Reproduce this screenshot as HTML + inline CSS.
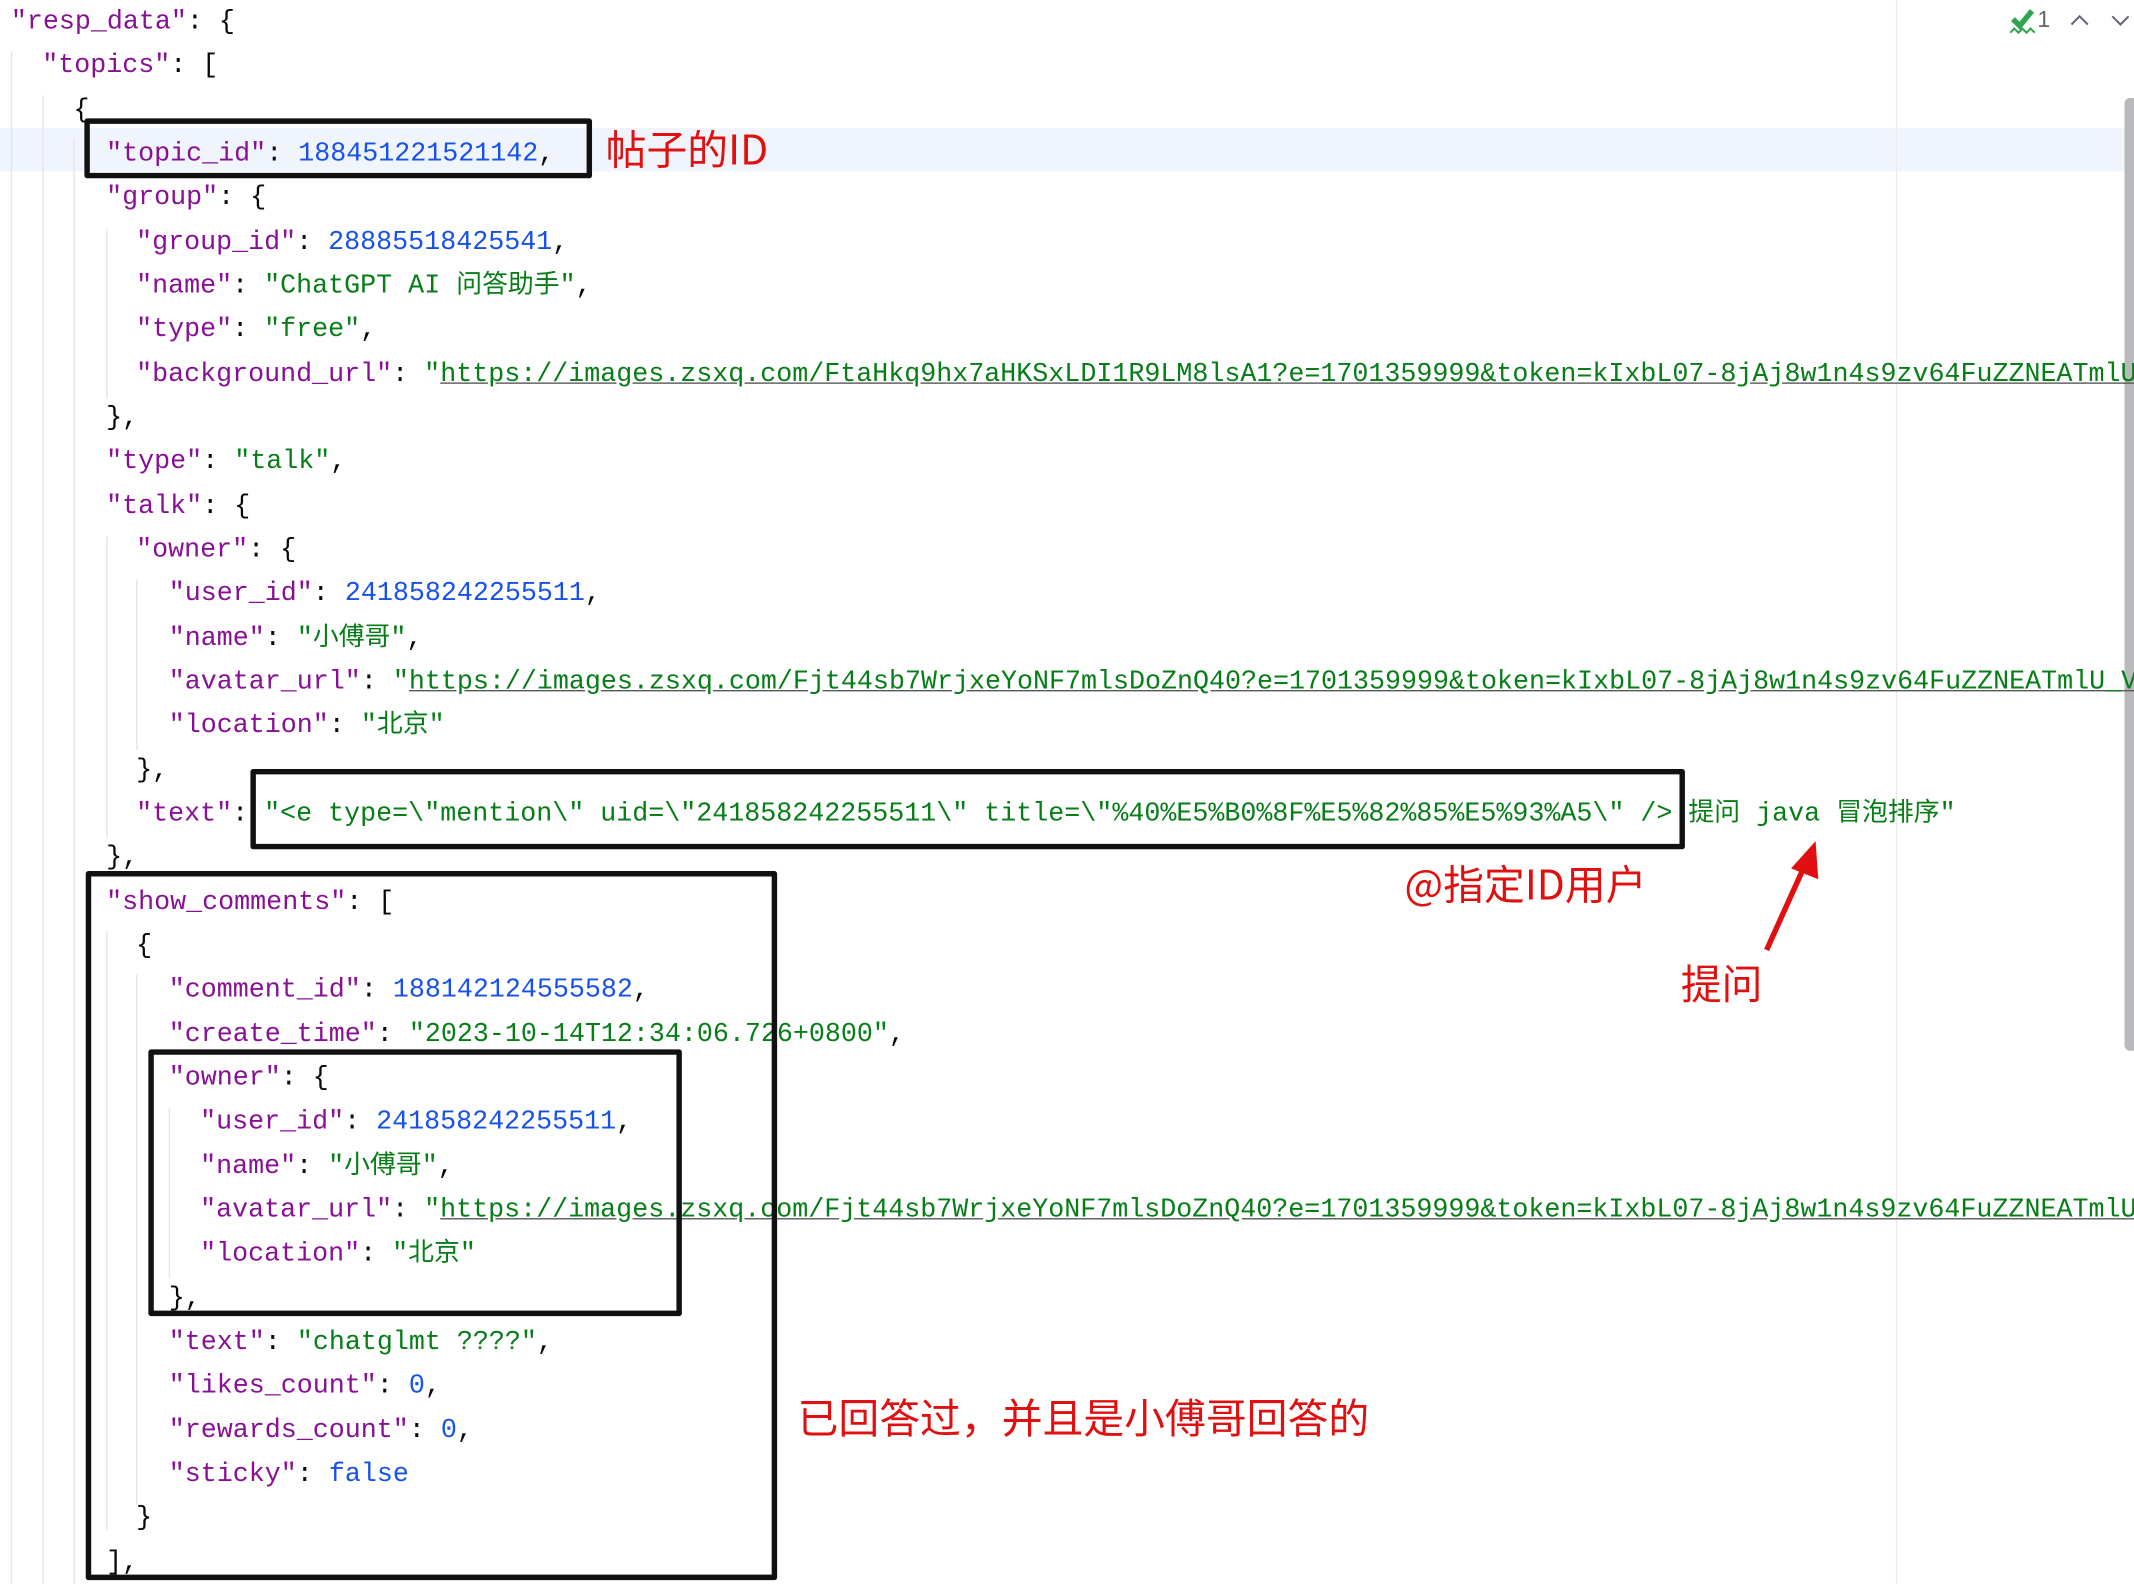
<!DOCTYPE html>
<html><head><meta charset="utf-8"><style>
html,body{margin:0;padding:0;background:#fff;width:2134px;height:1584px;overflow:hidden}
#w{position:absolute;left:0;top:0;width:1568px;height:1164px;transform:scale(1.361);transform-origin:0 0;overflow:hidden}
.l{position:absolute;height:32px;line-height:32px;font-family:"Liberation Mono","Noto Sans CJK SC",monospace;font-size:19.6px;white-space:pre;color:#080808;margin-top:3px}
.k{color:#871094}.n{color:#1750eb}.s{color:#067d17}.u{color:#067d17;text-decoration:underline;text-decoration-color:#555}
.c{font-family:"Noto Sans CJK SC",sans-serif;font-size:19px;line-height:1}
.box{position:absolute;border:4px solid #111;box-sizing:border-box;border-radius:2px}
.red{position:absolute;color:#e01010;font-family:"Noto Sans CJK SC",sans-serif;font-size:30px;white-space:nowrap;line-height:1}
.g{position:absolute;width:1px;background:#e4e4e8}
</style></head><body><div id="w">
<div style="position:absolute;left:0;top:94px;width:1568px;height:32px;background:#eff4fd"></div>
<div class="g" style="left:8px;top:38px;height:1126px"></div>
<div class="g" style="left:31px;top:70px;height:1094px"></div>
<div class="g" style="left:54px;top:102px;height:1062px"></div>
<div class="g" style="left:78px;top:168px;height:125px"></div>
<div class="g" style="left:78px;top:394px;height:222px"></div>
<div class="g" style="left:100px;top:426px;height:125px"></div>
<div class="g" style="left:78px;top:684px;height:440px"></div>
<div class="g" style="left:100px;top:716px;height:390px"></div>
<div class="g" style="left:124px;top:814px;height:125px"></div>
<div style="position:absolute;left:1393px;top:0;width:1px;height:1164px;background:#ebebeb"></div>
<div style="position:absolute;left:1561px;top:72px;width:7px;height:700px;background:#b9b9bb;border-radius:4px 0 0 4px"></div>

<div class="l" style="left:8px;top:-3px"><span class="k">"resp_data"</span>: {</div>
<div class="l" style="left:31px;top:29px"><span class="k">"topics"</span>: [</div>
<div class="l" style="left:54px;top:62px">{</div>
<div class="l" style="left:78px;top:94px"><span class="k">"topic_id"</span>: <span class="n">188451221521142</span>,</div>
<div class="l" style="left:78px;top:126px"><span class="k">"group"</span>: {</div>
<div class="l" style="left:100px;top:159px"><span class="k">"group_id"</span>: <span class="n">28885518425541</span>,</div>
<div class="l" style="left:100px;top:191px"><span class="k">"name"</span>: <span class="s">"ChatGPT AI <span class="c">问答助手</span>"</span>,</div>
<div class="l" style="left:100px;top:223px"><span class="k">"type"</span>: <span class="s">"free"</span>,</div>
<div class="l" style="left:100px;top:256px"><span class="k">"background_url"</span>: <span class="s">"</span><span class="u">https://images.zsxq.com/FtaHkq9hx7aHKSxLDI1R9LM8lsA1?e=1701359999&amp;token=kIxbL07-8jAj8w1n4s9zv64FuZZNEATmlU</span></div>
<div class="l" style="left:78px;top:288px">},</div>
<div class="l" style="left:78px;top:320px"><span class="k">"type"</span>: <span class="s">"talk"</span>,</div>
<div class="l" style="left:78px;top:353px"><span class="k">"talk"</span>: {</div>
<div class="l" style="left:100px;top:385px"><span class="k">"owner"</span>: {</div>
<div class="l" style="left:124px;top:417px"><span class="k">"user_id"</span>: <span class="n">241858242255511</span>,</div>
<div class="l" style="left:124px;top:450px"><span class="k">"name"</span>: <span class="s">"<span class="c">小傅哥</span>"</span>,</div>
<div class="l" style="left:124px;top:482px"><span class="k">"avatar_url"</span>: <span class="s">"</span><span class="u">https://images.zsxq.com/Fjt44sb7WrjxeYoNF7mlsDoZnQ40?e=1701359999&amp;token=kIxbL07-8jAj8w1n4s9zv64FuZZNEATmlU_V</span></div>
<div class="l" style="left:124px;top:514px"><span class="k">"location"</span>: <span class="s">"<span class="c">北京</span>"</span></div>
<div class="l" style="left:100px;top:547px">},</div>
<div class="l" style="left:100px;top:579px"><span class="k">"text"</span>: <span class="s">"&lt;e type=\"mention\" uid=\"241858242255511\" title=\"%40%E5%B0%8F%E5%82%85%E5%93%A5\" /&gt; <span class="c">提问</span> java <span class="c">冒泡排序</span>"</span></div>
<div class="l" style="left:78px;top:611px">},</div>
<div class="l" style="left:78px;top:644px"><span class="k">"show_comments"</span>: [</div>
<div class="l" style="left:100px;top:676px">{</div>
<div class="l" style="left:124px;top:708px"><span class="k">"comment_id"</span>: <span class="n">188142124555582</span>,</div>
<div class="l" style="left:124px;top:741px"><span class="k">"create_time"</span>: <span class="s">"2023-10-14T12:34:06.726+0800"</span>,</div>
<div class="l" style="left:124px;top:773px"><span class="k">"owner"</span>: {</div>
<div class="l" style="left:147px;top:805px"><span class="k">"user_id"</span>: <span class="n">241858242255511</span>,</div>
<div class="l" style="left:147px;top:838px"><span class="k">"name"</span>: <span class="s">"<span class="c">小傅哥</span>"</span>,</div>
<div class="l" style="left:147px;top:870px"><span class="k">"avatar_url"</span>: <span class="s">"</span><span class="u">https://images.zsxq.com/Fjt44sb7WrjxeYoNF7mlsDoZnQ40?e=1701359999&amp;token=kIxbL07-8jAj8w1n4s9zv64FuZZNEATmlU</span></div>
<div class="l" style="left:147px;top:902px"><span class="k">"location"</span>: <span class="s">"<span class="c">北京</span>"</span></div>
<div class="l" style="left:124px;top:935px">},</div>
<div class="l" style="left:124px;top:967px"><span class="k">"text"</span>: <span class="s">"chatglmt ????"</span>,</div>
<div class="l" style="left:124px;top:999px"><span class="k">"likes_count"</span>: <span class="n">0</span>,</div>
<div class="l" style="left:124px;top:1032px"><span class="k">"rewards_count"</span>: <span class="n">0</span>,</div>
<div class="l" style="left:124px;top:1064px"><span class="k">"sticky"</span>: <span class="n">false</span></div>
<div class="l" style="left:100px;top:1096px">}</div>
<div class="l" style="left:78px;top:1129px">],</div>

<div class="box" style="left:62px;top:87px;width:373px;height:44px"></div>
<div class="box" style="left:184px;top:565px;width:1054px;height:59px"></div>
<div class="box" style="left:63px;top:640px;width:508px;height:521px"></div>
<div class="box" style="left:109px;top:771px;width:392px;height:196px"></div>

<div class="red" style="left:445px;top:93px">帖子的ID</div>
<div class="red" style="left:1032px;top:633px">@指定ID用户</div>
<div class="red" style="left:1235px;top:706px">提问</div>
<div class="red" style="left:586px;top:1025px">已回答过，并且是小傅哥回答的</div>
<svg style="position:absolute;left:0;top:0" width="1568" height="1164">
<line x1="1298" y1="698" x2="1326" y2="636" stroke="#e01010" stroke-width="4"/>
<polygon points="1334,618 1336,646 1316,638" fill="#e01010"/>
<path d="M1479 14 l5 5 l9 -11" stroke="#2ea44f" stroke-width="4" fill="none"/>
<path d="M1477 24 l3 -3 l3 3 l3 -3 l3 3 l3 -3 l3 3" stroke="#2ea44f" stroke-width="1.5" fill="none"/>
<text x="1497" y="20" font-family="Liberation Sans" font-size="17" fill="#666">1</text>
<path d="M1522 18 l6 -6 l6 6" stroke="#667" stroke-width="1.5" fill="none"/>
<path d="M1552 12 l6 6 l6 -6" stroke="#667" stroke-width="1.5" fill="none"/>
</svg>
</div></body></html>
